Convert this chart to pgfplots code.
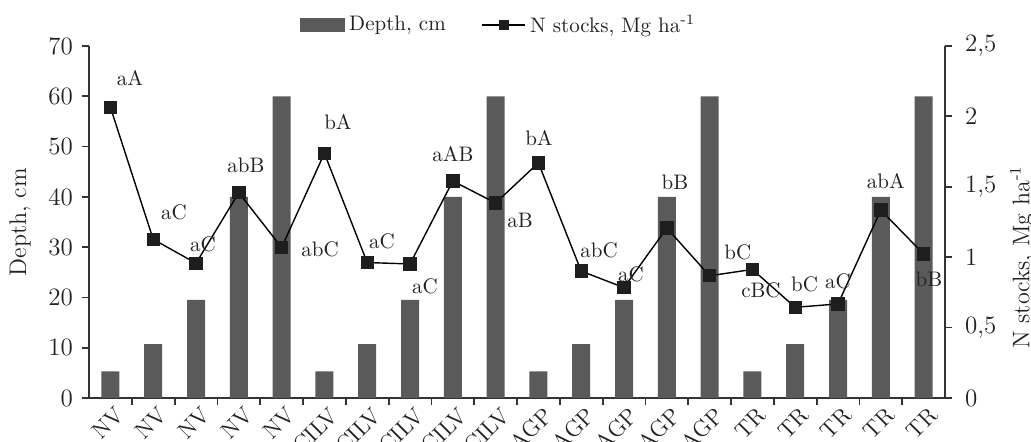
\documentclass[border=0pt]{standalone}
\usepackage{fontspec}
\usepackage{pgfplots}
\pgfplotsset{compat=1.18}
\definecolor{barcol}{HTML}{5A5A5A}
\definecolor{axcol}{HTML}{333333}
\definecolor{mkcol}{HTML}{1E1E1E}
\definecolor{txtcol}{HTML}{222222}
\pgfplotsset{mylineleg/.style={legend image code/.code={\draw[mark repeat=2, mark phase=2, mark size=2.3pt, ##1] plot coordinates {(0pt,0pt) (10.75pt,0pt) (21.5pt,0pt)};}}}
\begin{document}
\begin{tikzpicture}
\begin{axis}[
  scale only axis, width=428pt, height=176pt,
  xmin=-0.5, xmax=19.5, ymin=0, ymax=70,
  axis x line*=bottom, axis y line*=left,
  axis line style={-, draw=axcol, line width=1pt},
  tick style={draw=axcol, line width=0.9pt},
  tick align=outside, major tick length=3.5pt, minor tick length=3.5pt,
  ytick={0,10,...,70},
  xtick={0,...,19},
  minor x tick num=1,
  every major x tick/.append style={draw=none},
  xticklabels={NV,NV,NV,NV,NV,CILV,CILV,CILV,CILV,CILV,AGP,AGP,AGP,AGP,AGP,TR,TR,TR,TR,TR},
  x tick label style={xshift=7.4pt, yshift=-0.8pt, rotate=45, anchor=east, font=\fontsize{11.5}{13}\selectfont, text=txtcol},
  y tick label style={font=\fontsize{12.5}{14}\selectfont, text=txtcol, xshift=-1pt},
  /pgf/number format/assume math mode=true,
  ylabel={Depth, cm},
  y label style={at={(axis description cs:-0.0806,0.5)}, anchor=center, font=\fontsize{12}{14}\selectfont, text=txtcol},
  ybar, bar width=9pt,
]
\addplot[fill=barcol, draw=none] coordinates {
 (0,5.3) (1,10.7) (2,19.5) (3,40) (4,60)
 (5,5.3) (6,10.7) (7,19.5) (8,40) (9,60)
 (10,5.3) (11,10.7) (12,19.5) (13,40) (14,60)
 (15,5.3) (16,10.7) (17,19.5) (18,40) (19,60)};
\end{axis}
\begin{axis}[
  scale only axis, width=428pt, height=176pt,
  xmin=-0.5, xmax=19.5, ymin=0, ymax=2.5,
  axis x line=none, axis y line*=right,
  axis line style={-, draw=axcol, line width=1pt},
  tick style={draw=axcol, line width=0.9pt},
  tick align=outside, major tick length=3.5pt,
  ytick={0,0.5,1,1.5,2,2.5},
  yticklabels={0,{0,5},1,{1,5},2,{2,5}},
  y tick label style={font=\fontsize{12.5}{14}\selectfont, text=txtcol, xshift=3pt},
  ylabel={N stocks, Mg ha\textsuperscript{-1}},
  y label style={at={(axis description cs:1.09,0.40)}, anchor=center, font=\fontsize{12}{14}\selectfont, text=txtcol},
  legend style={at={(rel axis cs:0.48,1.06)}, anchor=center, draw=none, fill=none,
    legend columns=2, font=\fontsize{10.5}{12}\selectfont, text=txtcol,
    /tikz/every even column/.append style={column sep=16pt}},
]
\addlegendimage{legend image code/.code={\fill[barcol] (0pt,-3.3pt) rectangle (22pt,3.3pt);}}
\addlegendentry{Depth, cm}
\addplot[black, line width=0.7pt, mark=square*, mark size=3pt, mark options={fill=mkcol, draw=mkcol}, mylineleg]
 coordinates {
 (0,2.065) (1,1.127) (2,0.957) (3,1.458) (4,1.069)
 (5,1.738) (6,0.962) (7,0.952) (8,1.541) (9,1.385)
 (10,1.670) (11,0.901) (12,0.784) (13,1.207) (14,0.868)
 (15,0.913) (16,0.644) (17,0.668) (18,1.334) (19,1.023)};
\addlegendentry{N stocks, Mg ha\textsuperscript{-1}}
\begin{scope}[every node/.style={font=\fontsize{10.5}{12}\selectfont, text=txtcol, inner sep=0pt}]
\node at (axis cs:0.458,2.273) {aA};
\node at (axis cs:1.486,1.321) {aC};
\node at (axis cs:2.164,1.094) {aC};
\node at (axis cs:3.168,1.655) {abB};
\node at (axis cs:4.897,1.058) {abC};
\node at (axis cs:5.318,1.960) {bA};
\node at (axis cs:6.346,1.115) {aC};
\node at (axis cs:7.35,0.795) {aC};
\node at (axis cs:8.005,1.733) {aAB};
\node at (axis cs:9.57,1.264) {aB};
\node at (axis cs:10.014,1.847) {bA};
\node at (axis cs:11.416,1.051) {abC};
\node at (axis cs:12.164,0.881) {aC};
\node at (axis cs:13.19,1.534) {bB};
\node at (axis cs:14.66,1.037) {bC};
\node at (axis cs:15.2,0.767) {cBC};
\node at (axis cs:16.22,0.810) {bC};
\node at (axis cs:17.0,0.831) {aC};
\node at (axis cs:18.12,1.541) {abA};
\node at (axis cs:19.126,0.845) {bB};
\end{scope}
\end{axis}
\pgfresetboundingbox
\path[use as bounding box] (-44.5pt,-22pt) rectangle (471pt,199pt);
\end{tikzpicture}
\end{document}
